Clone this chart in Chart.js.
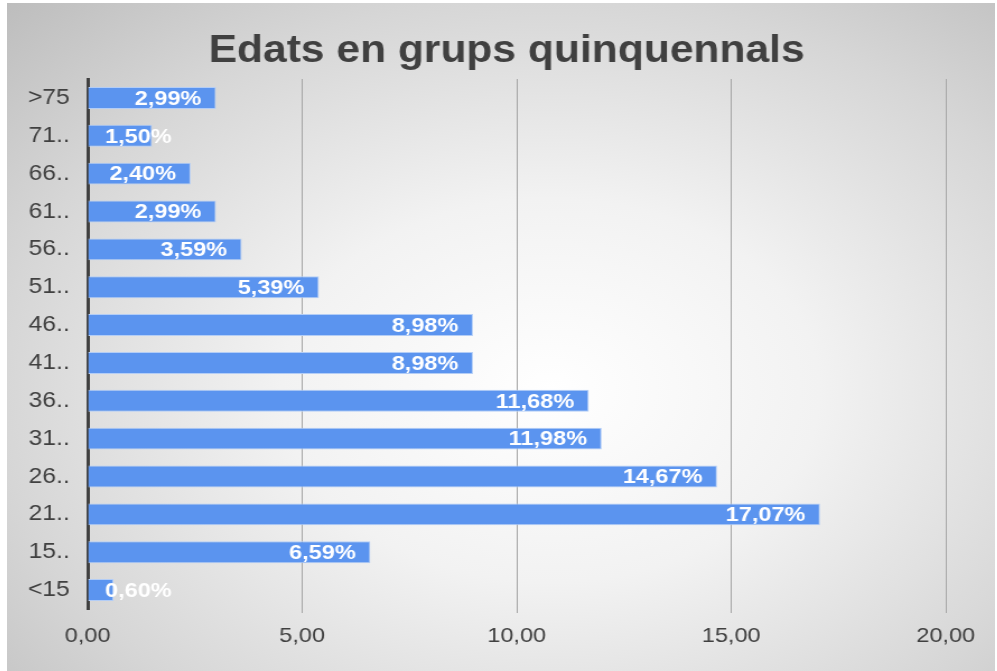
<!DOCTYPE html>
<html>
<head>
<meta charset="utf-8">
<script src="https://cdn.jsdelivr.net/npm/chart.js@4.4.1/dist/chart.umd.min.js"></script>
<style>
    html, body { margin: 0; padding: 0; background: #fff; }
    #wrap {
        position: absolute; left: 7px; top: 3px; width: 988px; height: 668px;
        background: radial-gradient(ellipse farthest-corner at 55% 58%, #ffffff 0%, #f2f2f2 35%, #d6d6d6 72%, #bdbdbd 100%);
    }
    #chart { display: block; }
</style>
</head>
<body>
<div id="wrap">
    <canvas id="chart" width="882" height="668" style="width:988px;height:668px"></canvas>
</div>
<script>
// Age groups (top to bottom) and their share in %
const ageGroups = ['>75', '71..', '66..', '61..', '56..', '51..', '46..', '41..', '36..', '31..', '26..', '21..', '15..', '<15'];
const shares = [2.99, 1.50, 2.40, 2.99, 3.59, 5.39, 8.98, 8.98, 11.68, 11.98, 14.67, 17.07, 6.59, 0.60];
const xTickLabels = ['0,00', '5,00', '10,00', '15,00', '20,00'];
const chartTitle = 'Edats en grups quinquennals';

const FONT = '"Liberation Sans", Arial, sans-serif';
const TEXT = '#404040';

// title drawn by hand so it can sit a bit right of the canvas centre
const titlePlugin = {
    id: 'titlePlugin',
    afterDraw(chart) {
        const ctx = chart.ctx;
        ctx.save();
        ctx.font = 'bold 38px ' + FONT;
        ctx.fillStyle = TEXT;
        ctx.textAlign = 'center';
        ctx.textBaseline = 'middle';
        ctx.fillText(chartTitle, 446, 49);
        ctx.restore();
    }
};

// white percentage labels drawn at the end of each bar
const barLabels = {
    id: 'barLabels',
    afterDatasetsDraw(chart) {
        const ctx = chart.ctx;
        const meta = chart.getDatasetMeta(0);
        ctx.save();
        ctx.font = 'bold 21px ' + FONT;
        ctx.fillStyle = '#ffffff';
        ctx.textBaseline = 'middle';
        ctx.textAlign = 'left';
        meta.data.forEach((bar, i) => {
            const txt = shares[i].toFixed(2).replace('.', ',') + '%';
            const w = ctx.measureText(txt).width;
            const x = Math.max(bar.base + 15, bar.x - 13 - w);
            ctx.fillText(txt, x, bar.y + 1);
        });
        ctx.restore();
    }
};

const ctx = document.getElementById('chart').getContext('2d');
new Chart(ctx, {
    type: 'bar',
    data: {
        labels: ageGroups,
        datasets: [{
            data: shares,
            backgroundColor: '#5b94ef',
            borderColor: '#b3cdf6',
            borderWidth: 1,
            barPercentage: 0.58,
            categoryPercentage: 1
        }]
    },
    options: {
        indexAxis: 'y',
        responsive: false,
        animation: false,
        layout: { padding: { left: 0, right: 44, top: 76, bottom: 0 } },
        scales: {
            x: {
                min: 0,
                max: 20,
                ticks: {
                    stepSize: 5,
                    color: TEXT,
                    font: { family: FONT, size: 21 },
                    padding: 11,
                    callback: (v, i) => xTickLabels[i]
                },
                grid: {
                    color: c => (c.tick && c.tick.value === 0) ? 'rgba(0,0,0,0)' : '#a6a6a6',
                    lineWidth: 1,
                    tickLength: 4
                },
                border: { display: false },
                afterFit: s => { s.height = 62; }
            },
            y: {
                ticks: {
                    color: TEXT,
                    font: { family: FONT, size: 22 },
                    padding: 16
                },
                grid: { display: false, drawTicks: false },
                border: { display: true, color: '#404040', width: 3 },
                afterFit: s => { s.width = 72; }
            }
        },
        plugins: {
            legend: { display: false },
            tooltip: { enabled: false },
            title: { display: false }
        }
    },
    plugins: [barLabels, titlePlugin]
});
</script>
</body>
</html>
